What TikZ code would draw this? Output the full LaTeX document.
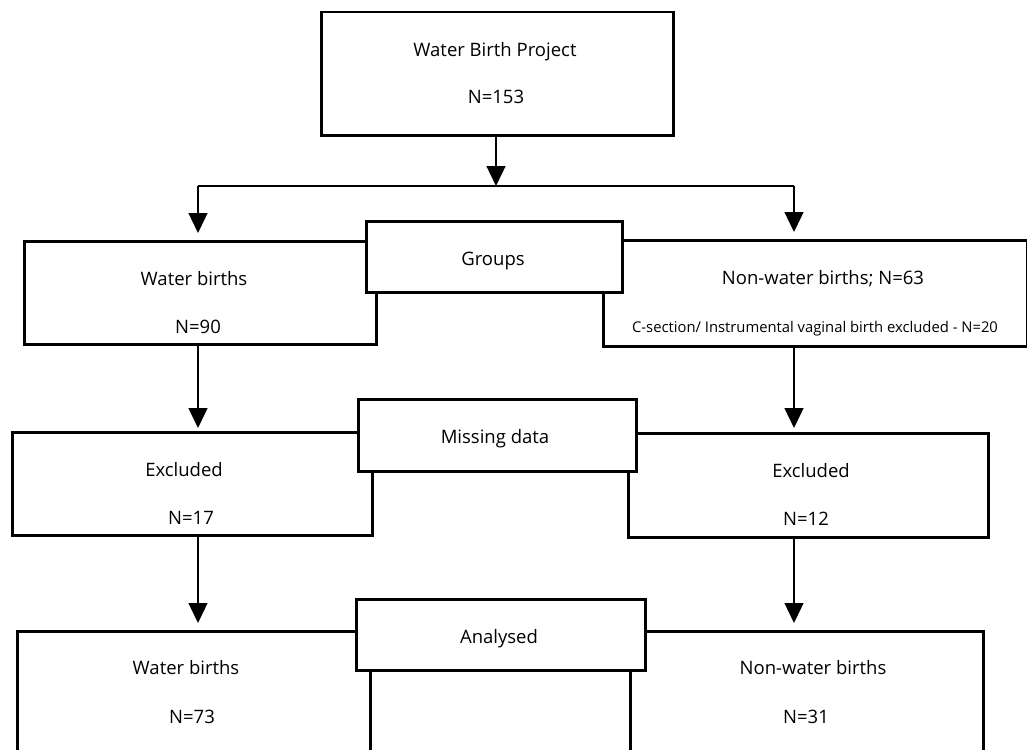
\documentclass[tikz,border=0pt]{standalone}
\usepackage{fontspec}
\setmainfont{Open Sans}
\usetikzlibrary{arrows.meta}
\begin{document}
\begin{tikzpicture}[x=1pt,y=-1pt,
  boxst/.style={draw=black,line width=2.5pt,fill=white,inner sep=0pt,anchor=north west},
  txt/.style={inner sep=0pt,anchor=base,font=\fontsize{18.5}{22}\selectfont},
  smalltxt/.style={inner sep=0pt,anchor=base,font=\fontsize{14.8}{18}\selectfont},
  conn/.style={draw=black,line width=1.3pt},
  arr/.style={conn,-{Triangle[width=19pt,length=20pt]}}]
\useasboundingbox[fill=white] (0,0) rectangle (1027,749);
% boxes (lower layers first)
\node[boxst,minimum width=352pt,minimum height=123pt] (top) at (320,11) {};
\node[boxst,minimum width=352pt,minimum height=103pt] (wb) at (23,240) {};
\node[boxst,minimum width=424pt,minimum height=106pt] (nwb) at (602,239) {};
\node[boxst,minimum width=256pt,minimum height=71pt] (groups) at (365,220) {};
\node[boxst,minimum width=360pt,minimum height=103pt] (exL) at (11,431) {};
\node[boxst,minimum width=360pt,minimum height=104pt] (exR) at (627,432) {};
\node[boxst,minimum width=278pt,minimum height=72pt] (missing) at (357,398) {};
\node[boxst,minimum width=353pt,minimum height=125pt] (bL) at (16,630) {};
\node[boxst,minimum width=353pt,minimum height=125pt] (bR) at (629,630) {};
\node[boxst,minimum width=289pt,minimum height=71pt] (analysed) at (355,598) {};
% texts
\node[txt] (t1) at (495,57) {Water Birth Project};
\node[txt] (t2) at (496,104) {N=153};
\node[txt] (t3) at (493,265) {Groups};
\node[txt] (t4) at (194,285) {Water births};
\node[txt] (t5) at (198,333) {N=90};
\node[txt] (t6) at (823,284) {Non-water births; N=63};
\node[smalltxt] (t7) at (815,332) {C-section/ Instrumental vaginal birth excluded - N=20};
\node[txt] (t8) at (495,443) {Missing data};
\node[txt] (t9) at (184,476) {Excluded};
\node[txt] (t10) at (191,524) {N=17};
\node[txt] (t11) at (811,477) {Excluded};
\node[txt] (t12) at (806,525) {N=12};
\node[txt] (t13) at (499,643) {Analysed};
\node[txt] (t14) at (186,674) {Water births};
\node[txt] (t15) at (192,723) {N=73};
\node[txt] (t16) at (813,674) {Non-water births};
\node[txt] (t17) at (806,723) {N=31};
% connectors
\coordinate (j) at (496,186);
\coordinate (jL) at (198,186);
\coordinate (jR) at (794,186);
\draw[arr] (top.south -| j) -- (j);
\draw[conn] (jL) -- (jR);
\draw[arr,shorten >=7pt] (jL) -- (jL |- wb.north);
\draw[arr,shorten >=7pt] (jR) -- (jR |- nwb.north);
\draw[arr,shorten >=3pt] (jL |- wb.south) -- (jL |- exL.north);
\draw[arr,shorten >=4pt] (jR |- nwb.south) -- (jR |- exR.north);
\draw[arr,shorten >=7pt] (jL |- exL.south) -- (jL |- bL.north);
\draw[arr,shorten >=7pt] (jR |- exR.south) -- (jR |- bR.north);
\end{tikzpicture}
\end{document}
